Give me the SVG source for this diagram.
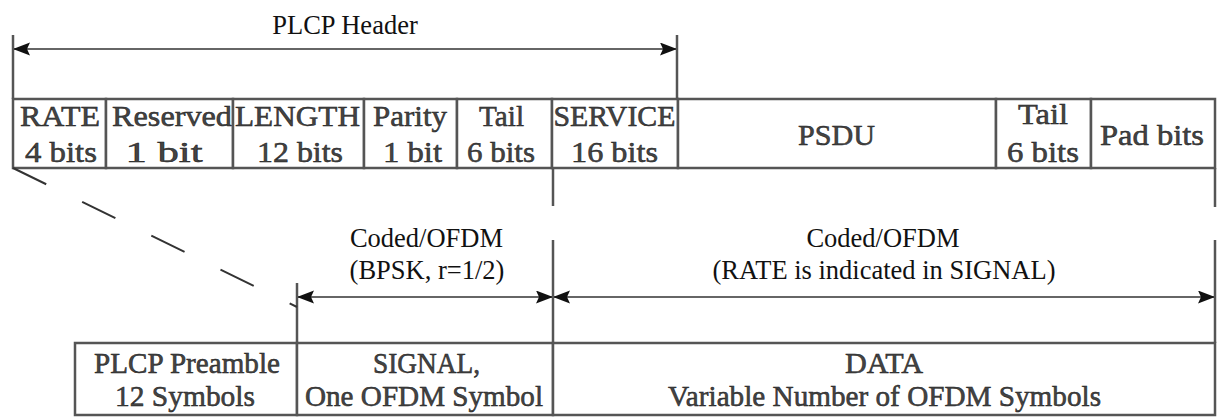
<svg xmlns="http://www.w3.org/2000/svg" width="1219" height="417" viewBox="0 0 1219 417">
  <defs>
    <style>
      .cell { fill: #ffffff; stroke: #555555; stroke-width: 2.5; }
      .dim { stroke: #666666; stroke-width: 2; fill: none; }
      .ext { stroke: #555555; stroke-width: 2.5; fill: none; }
      .dash { stroke: #333333; stroke-width: 2; fill: none; stroke-dasharray: 37 40; }
      text { font-family: 'Liberation Serif', 'Times New Roman', serif; text-anchor: middle; }
      .lbl { font-size: 26.5px; fill: #111111; }
      .fld { font-size: 30px; fill: #444444; stroke: #1a1a1a; stroke-width: 0.5; }
      .fld2 { font-size: 29px; fill: #444444; stroke: #1a1a1a; stroke-width: 0.5; }
    </style>
    <marker id="head" markerUnits="userSpaceOnUse" markerWidth="18" markerHeight="14" refX="17" refY="6.5" orient="auto-start-reverse">
      <path d="M0,0 L17,6.5 L0,13 L3,6.5 z" fill="#111111"/>
    </marker>
  </defs>

  <!-- PLCP header span label -->
  <g id="plcp-header">
    <text class="lbl" x="345" y="34">PLCP Header</text>
  </g>

  <!-- Header / PPDU field row -->
  <g id="field-rate">
    <rect class="cell" x="13" y="99" width="93" height="69"/>
    <text class="fld" x="60" y="126" textLength="80" lengthAdjust="spacingAndGlyphs">RATE</text>
    <text class="fld" x="61" y="162" textLength="72" lengthAdjust="spacingAndGlyphs">4 bits</text>
  </g>
  <g id="field-reserved">
    <rect class="cell" x="106" y="99" width="127" height="69"/>
    <text class="fld" x="172" y="126" textLength="120" lengthAdjust="spacingAndGlyphs">Reserved</text>
    <text class="fld" x="164" y="162" textLength="77" lengthAdjust="spacingAndGlyphs">1 bit</text>
  </g>
  <g id="field-length">
    <rect class="cell" x="233" y="99" width="131" height="69"/>
    <text class="fld" x="297.5" y="126" textLength="125" lengthAdjust="spacingAndGlyphs">LENGTH</text>
    <text class="fld" x="300" y="162" textLength="86" lengthAdjust="spacingAndGlyphs">12 bits</text>
  </g>
  <g id="field-parity">
    <rect class="cell" x="364" y="99" width="93" height="69"/>
    <text class="fld" x="410" y="126" textLength="74" lengthAdjust="spacingAndGlyphs">Parity</text>
    <text class="fld" x="412.5" y="162" textLength="59" lengthAdjust="spacingAndGlyphs">1 bit</text>
  </g>
  <g id="field-tail-header">
    <rect class="cell" x="457" y="99" width="95" height="69"/>
    <text class="fld" x="501.5" y="126" textLength="45" lengthAdjust="spacingAndGlyphs">Tail</text>
    <text class="fld" x="501" y="162" textLength="68" lengthAdjust="spacingAndGlyphs">6 bits</text>
  </g>
  <g id="field-service">
    <rect class="cell" x="552" y="99" width="126" height="69"/>
    <text class="fld" x="614.5" y="126" textLength="122" lengthAdjust="spacingAndGlyphs">SERVICE</text>
    <text class="fld" x="614.5" y="162" textLength="87" lengthAdjust="spacingAndGlyphs">16 bits</text>
  </g>
  <g id="field-psdu">
    <rect class="cell" x="678" y="99" width="318" height="69"/>
    <text class="fld" x="836.5" y="145" textLength="77" lengthAdjust="spacingAndGlyphs">PSDU</text>
  </g>
  <g id="field-tail">
    <rect class="cell" x="996" y="99" width="95" height="69"/>
    <text class="fld" x="1043" y="124" textLength="50" lengthAdjust="spacingAndGlyphs">Tail</text>
    <text class="fld" x="1043" y="162" textLength="72" lengthAdjust="spacingAndGlyphs">6 bits</text>
  </g>
  <g id="field-pad">
    <rect class="cell" x="1091" y="99" width="124" height="69"/>
    <text class="fld" x="1152" y="145" textLength="104" lengthAdjust="spacingAndGlyphs">Pad bits</text>
  </g>

  <!-- Modulation labels -->
  <g id="label-signal-coding">
    <text class="lbl" x="426.5" y="247">Coded/OFDM</text>
    <text class="lbl" x="427" y="279">(BPSK, r=1/2)</text>
  </g>
  <g id="label-data-coding">
    <text class="lbl" x="883" y="247">Coded/OFDM</text>
    <text class="lbl" x="884" y="279">(RATE is indicated in SIGNAL)</text>
  </g>

  <!-- PPDU symbol row -->
  <g id="seg-preamble">
    <rect class="cell" x="75" y="343" width="222" height="72"/>
    <text class="fld2" x="187" y="373" textLength="186" lengthAdjust="spacingAndGlyphs">PLCP Preamble</text>
    <text class="fld2" x="185" y="406" textLength="140" lengthAdjust="spacingAndGlyphs">12 Symbols</text>
  </g>
  <g id="seg-signal">
    <rect class="cell" x="297" y="343" width="256" height="72"/>
    <text class="fld2" x="426.5" y="373" textLength="107" lengthAdjust="spacingAndGlyphs">SIGNAL,</text>
    <text class="fld2" x="424" y="406" textLength="238" lengthAdjust="spacingAndGlyphs">One OFDM Symbol</text>
  </g>
  <g id="seg-data">
    <rect class="cell" x="553" y="343" width="662" height="72"/>
    <text class="fld2" x="884" y="373" textLength="78" lengthAdjust="spacingAndGlyphs">DATA</text>
    <text class="fld2" x="884.5" y="406" textLength="433" lengthAdjust="spacingAndGlyphs">Variable Number of OFDM Symbols</text>
  </g>

  <!-- Dimension lines, extension lines and the mapping guide -->
  <g id="connectors">
    <line class="ext" x1="13" y1="35" x2="13" y2="99"/>
    <line class="ext" x1="677" y1="35" x2="677" y2="99"/>
    <line class="dim" x1="13" y1="49" x2="677" y2="49" marker-start="url(#head)" marker-end="url(#head)"/>

    <line class="ext" x1="553" y1="168" x2="553" y2="206"/>
    <line class="ext" x1="553" y1="240" x2="553" y2="343"/>
    <line class="ext" x1="1215" y1="168" x2="1215" y2="207"/>
    <line class="ext" x1="1215" y1="240" x2="1215" y2="343"/>
    <line class="ext" x1="297" y1="283" x2="297" y2="343"/>

    <line class="dim" x1="297" y1="297" x2="553" y2="297" marker-start="url(#head)" marker-end="url(#head)"/>
    <line class="dim" x1="553" y1="297" x2="1215" y2="297" marker-start="url(#head)" marker-end="url(#head)"/>

    <line class="dash" x1="13" y1="168" x2="297" y2="307"/>
  </g>
</svg>
